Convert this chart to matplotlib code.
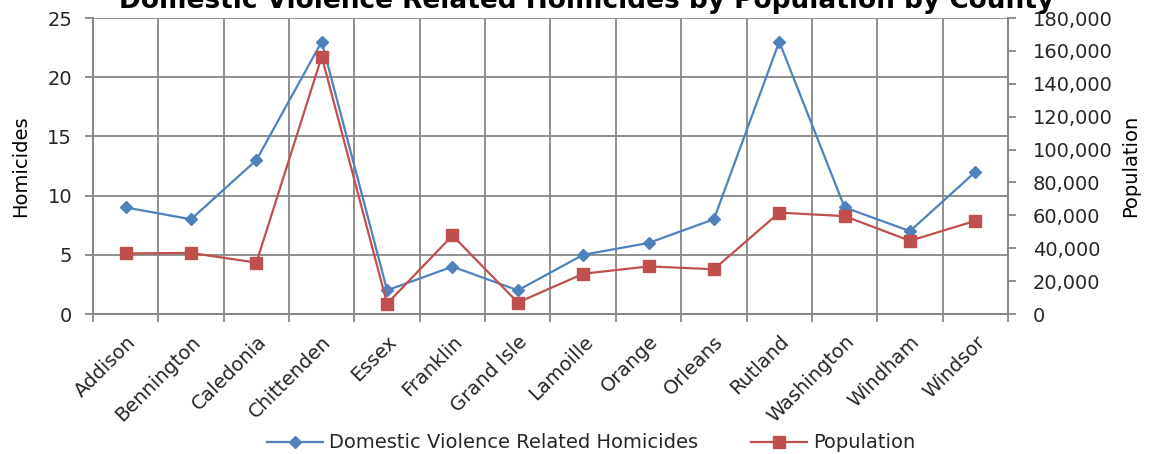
import matplotlib
matplotlib.use("Agg")
import matplotlib.pyplot as plt
from matplotlib.ticker import FuncFormatter, MultipleLocator, FixedLocator
import numpy as np

counties = ["Addison", "Bennington", "Caledonia", "Chittenden", "Essex", "Franklin",
            "Grand Isle", "Lamoille", "Orange", "Orleans", "Rutland", "Washington",
            "Windham", "Windsor"]
homicides = [9, 8, 13, 23, 2, 4, 2, 5, 6, 8, 23, 9, 7, 12]
population = [36821, 37125, 31227, 156545, 6306, 47746, 6970, 24475, 28936, 27231,
              61642, 59534, 44513, 56670]

title = "Domestic Violence Related Homicides by Population by County"
blue = "#4F81BD"
red = "#C0504D"
grid_c = "#878787"
txt_c = "#262626"

plt.rcParams['font.family'] = ['DejaVu Sans']
fs = 14

fig = plt.figure(figsize=(11.59, 4.54), dpi=100)
ax = fig.add_axes([93/1159, 1-314/454, (1008-93)/1159, (314-18)/454])
ax2 = ax.twinx()

x = np.arange(len(counties))
l1, = ax.plot(x, homicides, color=blue, lw=1.6, marker='D', ms=6.5,
              markeredgecolor=blue, label="Domestic Violence Related Homicides", zorder=3)
l2, = ax2.plot(x, population, color=red, lw=1.6, marker='s', ms=9,
               markeredgecolor=red, label="Population", zorder=3)

ax.set_xlim(-0.5, len(counties)-0.5)
ax.set_ylim(0, 25)
ax2.set_ylim(0, 180000)
ax.yaxis.set_major_locator(MultipleLocator(5))
ax2.yaxis.set_major_locator(MultipleLocator(20000))
ax2.yaxis.set_major_formatter(FuncFormatter(lambda v, p: f"{int(v):,}"))

ax.set_xticks(x)
ax.set_xticklabels(counties, rotation=45, ha='right', rotation_mode='anchor',
                   fontsize=fs, color=txt_c)
ax.xaxis.set_minor_locator(FixedLocator(np.arange(-0.5, len(counties), 1.0)))
ax.tick_params(axis='x', which='major', length=0, pad=13)
ax.tick_params(axis='x', which='minor', length=6, width=1.3, color=grid_c, direction='out')
ax.tick_params(axis='y', length=6, width=1.3, color=grid_c, labelsize=fs, labelcolor=txt_c, pad=9)
ax2.tick_params(axis='y', length=6, width=1.3, color=grid_c, labelsize=fs, labelcolor=txt_c, pad=12)

ax.grid(True, axis='y', which='major', color=grid_c, lw=1.3)
ax.grid(True, axis='x', which='minor', color=grid_c, lw=1.3)
ax.set_axisbelow(True)

for a in (ax, ax2):
    for s in ('left', 'right', 'bottom'):
        a.spines[s].set_color(grid_c)
        a.spines[s].set_linewidth(1.3)
    a.spines['top'].set_visible(False)

ax.set_ylabel("Homicides", fontsize=fs, color='black', labelpad=12)
ax2.set_ylabel("Population", fontsize=fs, color='black', labelpad=6)

fig.text(587/1159, 1-8/454, title, ha='center', va='baseline', fontsize=19,
         fontweight='bold', color='black')

fig.legend(handles=[l1, l2], loc='center', bbox_to_anchor=(591/1159, 1-443/454),
           ncol=2, frameon=False, fontsize=fs, handlelength=2.9, columnspacing=2.7,
           handletextpad=0.3, labelcolor=txt_c)

fig.savefig("out.png", dpi=100)
